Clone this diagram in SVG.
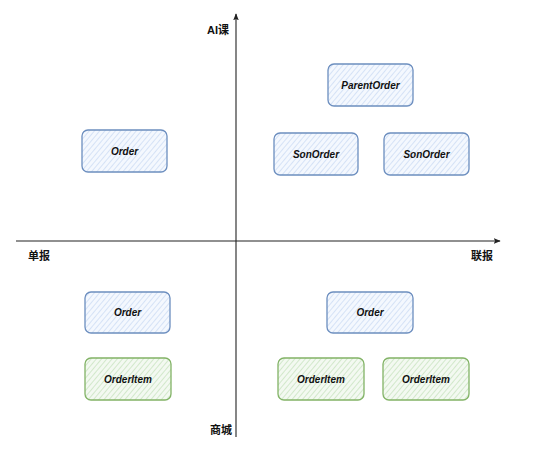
<svg xmlns="http://www.w3.org/2000/svg" width="534" height="457" viewBox="0 0 534 457">
<defs>
<pattern id="hb" width="4" height="4" patternUnits="userSpaceOnUse" patternTransform="rotate(40)">
<rect width="4" height="4" fill="#f4f8fe"/>
<line x1="0" y1="0" x2="0" y2="4" stroke="#bcd0f0" stroke-width="1.1"/>
</pattern>
<pattern id="hg" width="4" height="4" patternUnits="userSpaceOnUse" patternTransform="rotate(40)">
<rect width="4" height="4" fill="#f3f9f1"/>
<line x1="0" y1="0" x2="0" y2="4" stroke="#b7dbab" stroke-width="1.1"/>
</pattern>
<marker id="arr" viewBox="0 0 10 10" refX="9" refY="5" markerWidth="7" markerHeight="7" orient="auto" markerUnits="userSpaceOnUse">
<path d="M0,1 L10,5 L0,9 L2,5 Z" fill="#222"/>
</marker>
</defs>
<style>
.b{fill:url(#hb);stroke:#6c8ebf;stroke-width:1.3}
.g{fill:url(#hg);stroke:#82b366;stroke-width:1.3}
.t{font-family:"Liberation Sans",Arial,sans-serif;font-size:10px;font-weight:bold;font-style:italic;fill:#111;text-anchor:middle;dominant-baseline:central}
.l{font-family:"Liberation Sans","Noto Sans CJK SC",sans-serif;font-size:11px;font-weight:bold;fill:#111;dominant-baseline:central}
.ax{stroke:#222;stroke-width:1.1;fill:none}
</style>
<rect width="534" height="457" fill="#fff"/>
<g id="connectors">
<line class="ax" x1="236" y1="437" x2="236" y2="14" marker-end="url(#arr)"/>
<line class="ax" x1="16" y1="241" x2="500" y2="241" marker-end="url(#arr)"/>
</g>
<g id="labels">
<text class="l" x="207" y="30">AI课</text>
<text class="l" x="28" y="256">单报</text>
<text class="l" x="471" y="256">联报</text>
<text class="l" x="210" y="430">商城</text>
</g>
<g id="order-tl"><rect class="b" x="82" y="130" width="85" height="42" rx="6"/><text class="t" x="124.5" y="151">Order</text></g>
<g id="parentorder"><rect class="b" x="328" y="64" width="85" height="42" rx="6"/><text class="t" x="370.5" y="85">ParentOrder</text></g>
<g id="sonorder1"><rect class="b" x="274" y="133" width="84" height="42" rx="6"/><text class="t" x="316" y="154">SonOrder</text></g>
<g id="sonorder2"><rect class="b" x="384" y="133" width="85" height="42" rx="6"/><text class="t" x="426.5" y="154">SonOrder</text></g>
<g id="order-bl"><rect class="b" x="85" y="292" width="85" height="41" rx="6"/><text class="t" x="127.5" y="312.5">Order</text></g>
<g id="orderitem-bl"><rect class="g" x="85" y="358" width="86" height="42" rx="6"/><text class="t" x="128" y="379">OrderItem</text></g>
<g id="order-br"><rect class="b" x="327" y="292" width="86" height="41" rx="6"/><text class="t" x="370" y="312.5">Order</text></g>
<g id="orderitem-br1"><rect class="g" x="278" y="358" width="86" height="42" rx="6"/><text class="t" x="321" y="379">OrderItem</text></g>
<g id="orderitem-br2"><rect class="g" x="383" y="358" width="86" height="42" rx="6"/><text class="t" x="426" y="379">OrderItem</text></g>
</svg>
